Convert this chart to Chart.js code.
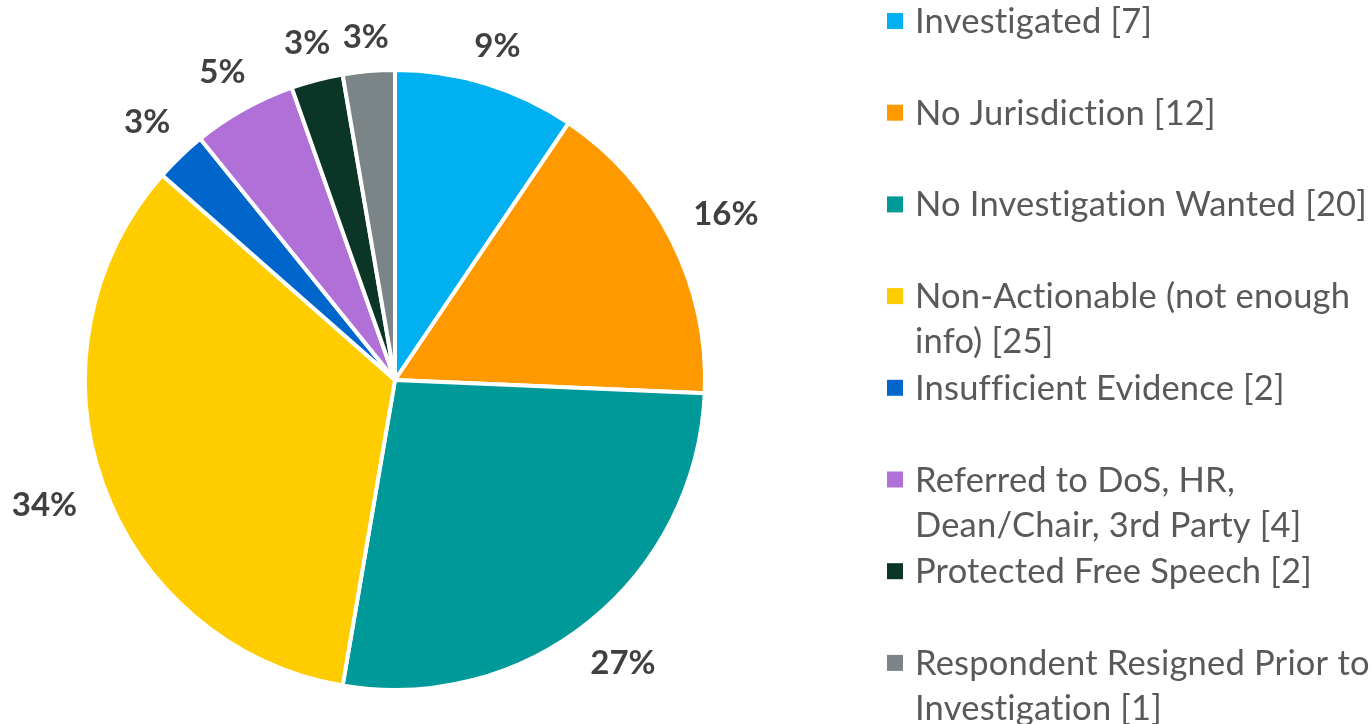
<!DOCTYPE html>
<html>
<head>
<meta charset="utf-8">
<script src="https://cdn.jsdelivr.net/npm/chart.js@4/dist/chart.umd.min.js"></script>
<style>
  html, body { margin: 0; padding: 0; background: #fff; }
  #wrap { width: 1372px; height: 724px; position: relative; }
</style>
</head>
<body>
<div id="wrap"><canvas id="pie_chart" width="1372" height="724"></canvas></div>
<script>
// categories (legend text, split where the original wraps)
var categories = [
    ['Investigated [7]'],
    ['No Jurisdiction [12]'],
    ['No Investigation Wanted [20]'],
    ['Non-Actionable (not enough', 'info) [25]'],
    ['Insufficient Evidence [2]'],
    ['Referred to DoS, HR,', 'Dean/Chair, 3rd Party [4]'],
    ['Protected Free Speech [2]'],
    ['Respondent Resigned Prior to', 'Investigation [1]']
];
var counts = [7, 12, 20, 25, 2, 4, 2, 2];
var colors = ['#00B0F0', '#FF9900', '#009999', '#FFCC00', '#0066CC', '#B070D8', '#0B3527', '#7B8487'];

var labelFont = 'bold 33px Lato';
var legendFont = '34.5px Lato';

// percentage labels outside each slice
var outsideLabels = {
    id: 'outsideLabels',
    afterDatasetsDraw: function(chart) {
        var ctx = chart.ctx;
        var meta = chart.getDatasetMeta(0);
        var data = chart.data.datasets[0].data;
        var total = data.reduce(function(a, b) { return a + b; }, 0);
        ctx.save();
        ctx.font = labelFont;
        ctx.fillStyle = '#404040';
        ctx.textAlign = 'center';
        ctx.textBaseline = 'middle';
        meta.data.forEach(function(arc, i) {
            var p = arc.getProps(['x', 'y', 'startAngle', 'endAngle', 'outerRadius'], true);
            var mid = (p.startAngle + p.endAngle) / 2;
            var txt = Math.round(data[i] / total * 100) + '%';
            var halfW = ctx.measureText(txt).width / 2;
            var proj = halfW * Math.abs(Math.cos(mid)) + 3 * Math.abs(Math.sin(mid));
            var d = p.outerRadius + 30 + proj;
            ctx.fillText(txt, p.x + Math.cos(mid) * d, p.y + Math.sin(mid) * d + 1);
        });
        ctx.restore();
    }
};

// legend on the right, one slot per category
var sideLegend = {
    id: 'sideLegend',
    afterDraw: function(chart) {
        var ctx = chart.ctx;
        var x0 = 887, tx = 915, y0 = 21, step = 91.7, box = 16, lineH = 45;
        ctx.save();
        ctx.font = legendFont;
        ctx.letterSpacing = '0.2px';
        ctx.textBaseline = 'alphabetic';
        ctx.textAlign = 'left';
        chart.data.labels.forEach(function(lines, i) {
            var cy = y0 + i * step;
            ctx.fillStyle = colors[i];
            ctx.fillRect(x0, cy - box / 2, box, box);
            ctx.fillStyle = '#595959';
            lines.forEach(function(line, j) {
                ctx.fillText(line, tx, cy + 12 + j * lineH);
            });
        });
        ctx.restore();
    }
};

var ctx = document.getElementById('pie_chart').getContext('2d');
new Chart(ctx, {
    type: 'pie',
    data: {
        labels: categories,
        datasets: [{
            data: counts,
            backgroundColor: colors,
            borderColor: '#ffffff',
            borderWidth: 4
        }]
    },
    options: {
        responsive: false,
        animation: false,
        layout: { padding: { left: 83, top: 68, right: 665, bottom: 32 } },
        plugins: {
            legend: { display: false },
            tooltip: { enabled: false }
        }
    },
    plugins: [outsideLabels, sideLegend]
});
</script>
</body>
</html>
